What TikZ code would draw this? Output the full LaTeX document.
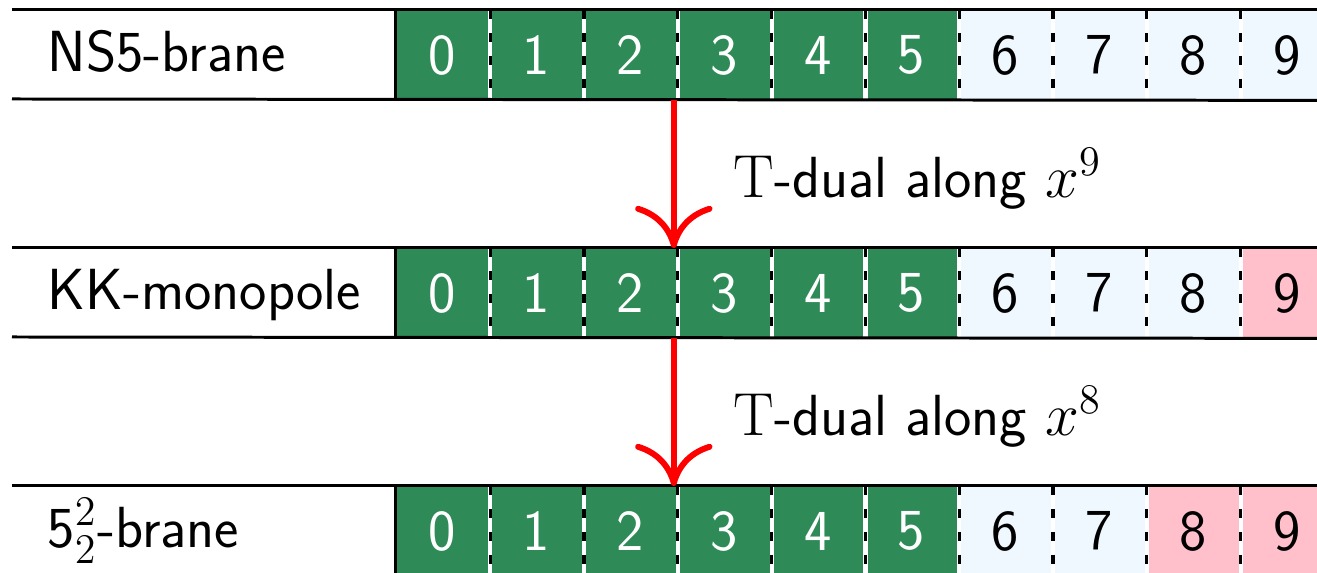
\documentclass[tikz,border=0pt]{standalone}
\usepackage{tikz}
\usetikzlibrary{arrows.meta}
\usetikzlibrary{positioning}
\definecolor{dimgreen}{RGB}{46,139,87}
\definecolor{dimblue}{RGB}{240,248,255}
\definecolor{dimpink}{RGB}{255,192,203}
\tikzset{every node/.style = {font = \fontsize{16.5}{19}\selectfont\sffamily}}
\tikzset{cell/.style = {minimum width = 0.938cm, minimum height = 0.89cm,
                        inner sep = 0, anchor = north west}}
\tikzset{world/.style = {cell, fill = dimgreen, text = white}}
\tikzset{trans/.style = {cell, fill = dimblue}}
\tikzset{dual/.style = {cell, fill = dimpink}}
\tikzset{rule/.style = {line width = 0.85pt}}
\tikzset{gap/.style = {white, line width = 1.2pt}}
\tikzset{sep/.style = {line width = 0.9pt, dash pattern = on 2.6pt off 3.9pt}}
\tikzset{tdual/.style = {red, line width = 1.7pt, -{To[length = 12pt, width = 22pt]}}}

\begin{document}
\begin{tikzpicture}
  \path [use as bounding box, clip] (0, 0) rectangle (13.17, -5.73);
  \foreach \r/\y/\p/\l in {a/0.10/10/NS5-brane, b/2.48/9/KK-monopole, c/4.86/8/{5$^2_2$-brane}} {
    \coordinate (\r) at (0.12, -\y);
    \foreach \i in {0, ..., 9} {
      \ifnum\i<6 \def\st{world}\else\ifnum\i<\p \def\st{trans}\else\def\st{dual}\fi\fi
      \node [\st] (\r\i) at (3.95 + 0.938*\i, -\y) {\i};
    }
    \foreach \i in {0, ..., 8} {
      \draw [gap] (\r\i.north east) -- (\r\i.south east);
      \draw [sep] (\r\i.north east) -- (\r\i.south east);
    }
    \draw [rule] (\r0.north west) -- (\r0.south west);
    \draw [rule] (\r) -- (\r9.north east);
    \draw [rule] ([yshift = -0.89cm]\r) -- (\r9.south east);
    \node [anchor = base west, inner sep = 0] (\r l) at (0.47, -\y - 0.62) {\l};
  }
  \draw [tdual] ([xshift = -0.04cm]a2.south east) -- ([xshift = -0.04cm]b2.north east)
    node [midway, right = 0.45cm, yshift = -0.05cm, black] (t9) {$\mathrm{T}$-dual along $x^9$};
  \draw [tdual] ([xshift = -0.04cm]b2.south east) -- ([xshift = -0.04cm]c2.north east)
    node [midway, right = 0.45cm, yshift = -0.05cm, black] (t8) {$\mathrm{T}$-dual along $x^8$};
\end{tikzpicture}
\end{document}
